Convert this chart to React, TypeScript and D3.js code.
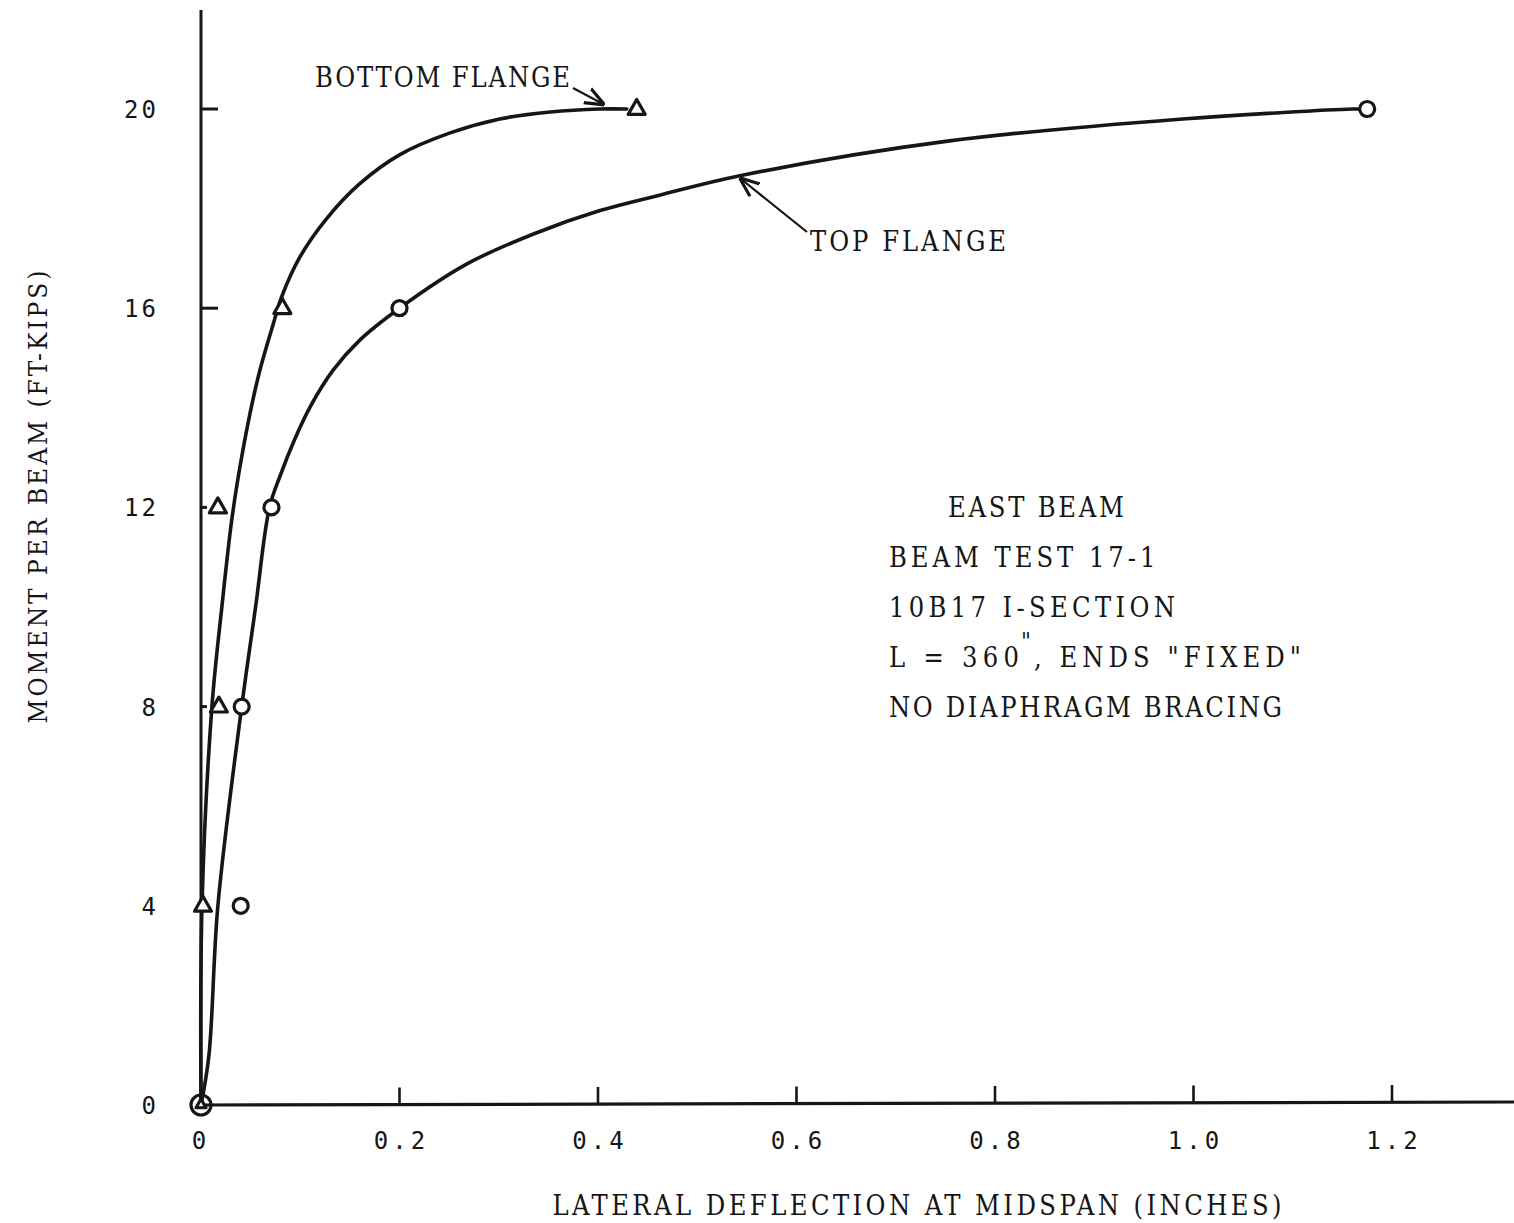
import React from "react";
import * as d3 from "d3";

// Measured points: lateral deflection (in) vs moment per beam (ft-kips)
const bottomFlangeX = [0, 0.002, 0.018, 0.017, 0.082, 0.439];
const bottomFlangeM = [0, 4, 8, 12, 16, 20];
const topFlangeX = [0, 0.04, 0.041, 0.071, 0.2, 1.175];
const topFlangeM = [0, 4, 8, 12, 16, 20];

// Hand-faired curves through the test points
const bottomCurveX = [0, 0.001, 0.011, 0.021, 0.031, 0.0393, 0.0494, 0.0594, 0.0729, 0.0813, 0.0997, 0.1266, 0.16, 0.2, 0.251, 0.301, 0.352, 0.402];
const bottomCurveM = [0, 4, 8, 10, 11.75, 12.82, 13.89, 14.76, 15.69, 16.23, 17.03, 17.8, 18.5, 19.08, 19.52, 19.8, 19.94, 20];
const topCurveX = [0, 0.008, 0.017, 0.041, 0.055, 0.069, 0.08, 0.094, 0.11, 0.1333, 0.16, 0.2, 0.268, 0.335, 0.402, 0.462, 0.543, 0.754, 0.989, 1.16];
const topCurveM = [0, 1, 4, 8, 10, 12, 12.65, 13.35, 14.02, 14.76, 15.36, 16, 16.89, 17.49, 17.96, 18.27, 18.66, 19.36, 19.8, 20];

const xTicks = [0, 0.2, 0.4, 0.6, 0.8, 1.0, 1.2];
const xTickLabels = ["0", "0.2", "0.4", "0.6", "0.8", "1.0", "1.2"];
const yTicks = [0, 4, 8, 12, 16, 20];
const yTickLabels = ["0", "4", "8", "12", "16", "20"];

const infoLines = ["BEAM TEST 17-1", "10B17 I-SECTION"];

const W = 1514;
const H = 1223;
const ink = "#161616";
const serif = "'DejaVu Serif Condensed', 'DejaVu Serif', 'Liberation Serif', serif";
const sans = "'DejaVu Sans Mono', monospace";
const FS = 27;

export default function App() {
  const x = d3.scaleLinear().domain([0, 1.2]).range([201, 1392]);
  const y = d3.scaleLinear().domain([0, 20]).range([1105, 109]);

  const line = d3
    .line<[number, number]>()
    .x((d) => x(d[0]))
    .y((d) => y(d[1]))
    .curve(d3.curveCatmullRom.alpha(0.5));

  const bottomCurve = bottomCurveX.map((v, i) => [v, bottomCurveM[i]] as [number, number]);
  // bottom flange ends on a short straight run to the last point
  bottomCurve.push([bottomFlangeX[5] - 0.01, 20]);
  const topCurve = topCurveX.map((v, i) => [v, topCurveM[i]] as [number, number]);
  topCurve.push([topFlangeX[5] - 0.008, 20]);

  const tri = (cx: number, cy: number, s = 8) =>
    `M${cx},${cy - s} L${cx + s},${cy + s * 0.75} L${cx - s},${cy + s * 0.75} Z`;

  const x0 = x(0);
  const y0 = y(0);

  const label = (s: string, px: number, py: number, len: number, key?: string) => (
    <text
      key={key}
      x={px}
      y={py}
      fontFamily={serif}
      fontSize={FS}
      textLength={len}
      lengthAdjust="spacing"
      fill={ink}
    >
      {s}
    </text>
  );

  return (
    <svg
      width={W}
      height={H}
      style={{ position: "absolute", left: 0, top: 0, background: "#ffffff" }}
    >
      <defs>
        <marker id="head" viewBox="0 0 10 10" refX="9" refY="5" markerWidth="9" markerHeight="9" orient="auto">
          <path d="M0,1 L10,5 L0,9" fill="none" stroke={ink} strokeWidth="1.6" />
        </marker>
      </defs>

      {/* axes */}
      <line x1={x0} y1={10} x2={x0} y2={y0} stroke={ink} strokeWidth={3} />
      <line x1={x0} y1={y0} x2={W} y2={y0 - 3} stroke={ink} strokeWidth={3.2} />

      {/* y ticks and labels */}
      {yTicks.map((t, i) => {
        const len = t >= 16 ? 17 : t >= 8 ? 6 : 0;
        return (
          <g key={"y" + t}>
            {len > 0 && (
              <line x1={x0} y1={y(t)} x2={x0 + len} y2={y(t)} stroke={ink} strokeWidth={3} />
            )}
            <text
              x={159}
              y={y(t) + 9}
              textAnchor="end"
              fontFamily={sans}
              fontSize={24}
              letterSpacing={3}
              fill={ink}
            >
              {yTickLabels[i]}
            </text>
          </g>
        );
      })}

      {/* x ticks and labels */}
      {xTicks.map((t, i) => (
        <g key={"x" + t}>
          {t > 0 && (
            <line
              x1={x(t)}
              y1={y0 - 1 - t * 2.5}
              x2={x(t)}
              y2={y0 - 17 - t * 2.5}
              stroke={ink}
              strokeWidth={2.6}
            />
          )}
          <text
            x={x(t) + (xTickLabels[i].length > 1 ? 2 : 0)}
            y={1149}
            textAnchor="middle"
            fontFamily={sans}
            fontSize={24}
            letterSpacing={4}
            fill={ink}
          >
            {xTickLabels[i]}
          </text>
        </g>
      ))}

      {/* curves */}
      <path d={line(bottomCurve) || ""} fill="none" stroke={ink} strokeWidth={3.6} strokeLinecap="round" />
      <path d={line(topCurve) || ""} fill="none" stroke={ink} strokeWidth={3.6} strokeLinecap="round" />

      {/* measured points */}
      {bottomFlangeX.map((v, i) => (
        <path
          key={"b" + i}
          d={tri(x(v), y(bottomFlangeM[i]) - 1, i === 0 ? 5 : 8.5)}
          fill="#ffffff"
          stroke={ink}
          strokeWidth={3.2}
          strokeLinejoin="round"
        />
      ))}
      {topFlangeX.map((v, i) => (
        <circle
          key={"t" + i}
          cx={x(v)}
          cy={y(topFlangeM[i])}
          r={i === 0 ? 10 : 7.5}
          fill={i === 0 ? "none" : "#ffffff"}
          stroke={ink}
          strokeWidth={3.2}
        />
      ))}

      {/* curve labels */}
      {label("BOTTOM FLANGE", 315, 87, 255)}
      <line x1={573} y1={88} x2={603} y2={104} stroke={ink} strokeWidth={2.2} markerEnd="url(#head)" />

      {label("TOP FLANGE", 810, 251, 196)}
      <line x1={807} y1={232} x2={741} y2={179} stroke={ink} strokeWidth={2.2} markerEnd="url(#head)" />

      {/* test description */}
      {label("EAST BEAM", 948, 517, 176)}
      {infoLines.map((s, i) => label(s, 889, 567 + i * 50, s.length * 19.6 - 8, s))}
      {label("L = 360", 889, 667, 130)}
      <text x={1021} y={650} fontFamily={serif} fontSize={24} fill={ink}>
        "
      </text>
      {label(', ENDS "FIXED"', 1034, 667, 267)}
      {label("NO DIAPHRAGM BRACING", 889, 717, 393)}

      {/* axis titles */}
      <text
        transform="translate(47,497) rotate(-90)"
        textAnchor="middle"
        fontFamily={serif}
        fontSize={26}
        textLength={453}
        lengthAdjust="spacing"
        fill={ink}
      >
        MOMENT PER BEAM (FT-KIPS)
      </text>
      <text
        x={917}
        y={1215}
        textAnchor="middle"
        fontFamily={serif}
        fontSize={FS}
        textLength={729}
        lengthAdjust="spacing"
        fill={ink}
      >
        LATERAL DEFLECTION AT MIDSPAN (INCHES)
      </text>
    </svg>
  );
}
